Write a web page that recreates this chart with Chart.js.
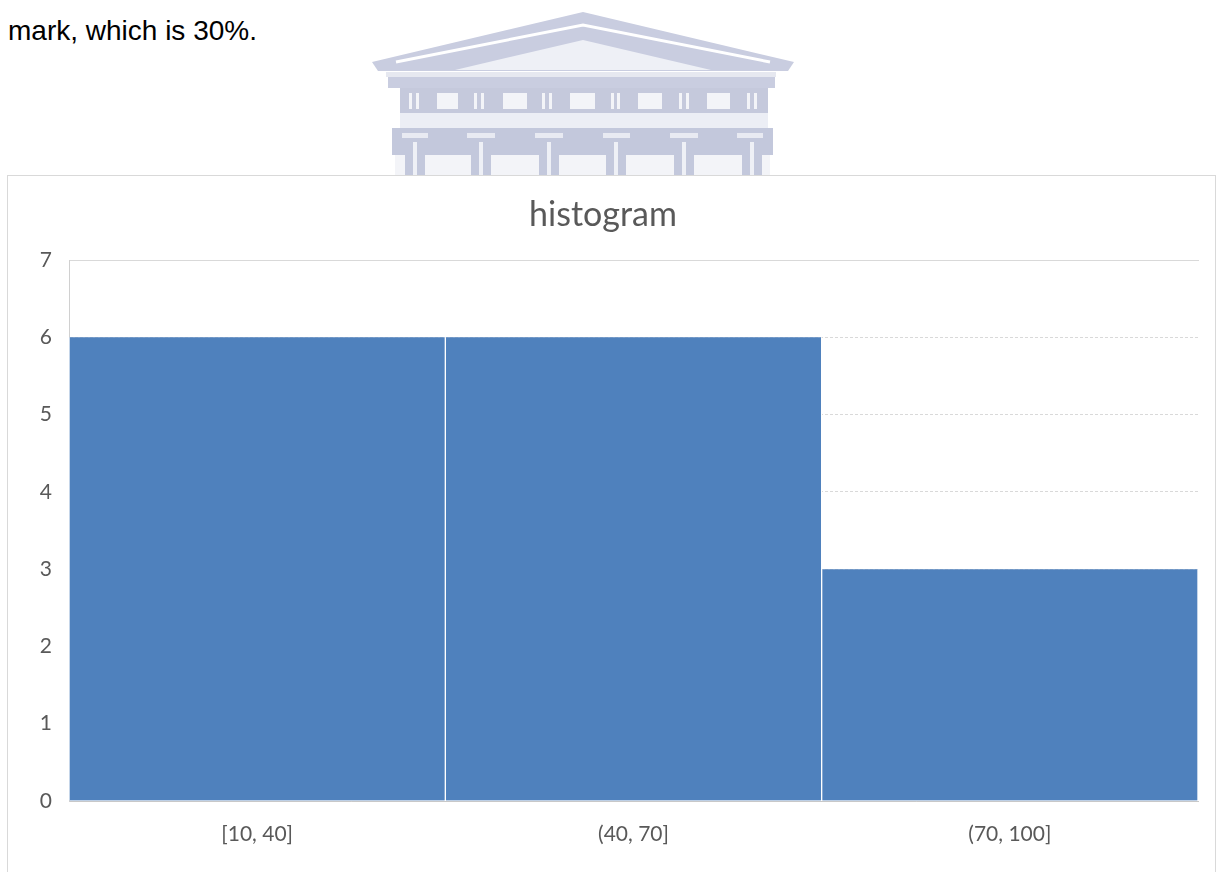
<!DOCTYPE html>
<html>
<head>
<meta charset="utf-8">
<script src="https://cdn.jsdelivr.net/npm/chart.js@4.4.0/dist/chart.umd.min.js"></script>
<style>
  html, body { margin: 0; padding: 0; background: #fff; width: 1216px; height: 872px; overflow: hidden; }
  #intro { position: absolute; left: 8px; top: 17px; margin: 0; font: 28px "Liberation Sans", Arial, sans-serif; line-height: 1; color: #000; white-space: nowrap; }
  #logo { position: absolute; left: 0; top: 0; }
  #box { position: absolute; left: 7px; top: 175px; width: 1207px; height: 720px; border: 1px solid #d9d9d9; background: #fff; }
  #box canvas { display: block; }
</style>
</head>
<body>
<p id="intro">mark, which is 30%.</p>

<!-- faded building watermark behind the chart -->
<svg id="logo" width="1216" height="176" viewBox="0 0 1216 176">
  <polygon points="583,12 372,62 378,71 788,71 794,62" fill="#c9cde0"/>
  <polyline points="396,62 583,25 770,62" fill="none" stroke="#ffffff" stroke-width="3"/>
  <polygon points="583,40 455,70 711,70" fill="#eef0f6"/>
  <rect x="386" y="72" width="390" height="5" fill="#e6e8f0"/>
  <rect x="388" y="77" width="387" height="11" fill="#c9cde0"/>
  <rect x="400" y="88" width="368" height="25" fill="#c5c9dc"/>
  <g fill="#f3f4f8">
    <rect x="437" y="93" width="21" height="16"/>
    <rect x="503" y="93" width="24" height="16"/>
    <rect x="570" y="93" width="25" height="16"/>
    <rect x="638" y="93" width="24" height="16"/>
    <rect x="707" y="93" width="23" height="16"/>
    <rect x="409" y="93" width="3" height="16"/>
    <rect x="416" y="93" width="3" height="16"/>
    <rect x="474" y="93" width="3" height="16"/>
    <rect x="481" y="93" width="3" height="16"/>
    <rect x="542" y="93" width="3" height="16"/>
    <rect x="549" y="93" width="3" height="16"/>
    <rect x="611" y="93" width="3" height="16"/>
    <rect x="617" y="93" width="3" height="16"/>
    <rect x="679" y="93" width="3" height="16"/>
    <rect x="686" y="93" width="3" height="16"/>
    <rect x="747" y="93" width="3" height="16"/>
    <rect x="754" y="93" width="3" height="16"/>
  </g>
  <rect x="400" y="113" width="368" height="15" fill="#eceef5"/>
  <rect x="392" y="128" width="381" height="27" fill="#c3c8dc"/>
  <g fill="#e8eaf2">
    <rect x="402" y="133" width="26" height="5"/>
    <rect x="467" y="133" width="28" height="5"/>
    <rect x="535" y="133" width="28" height="5"/>
    <rect x="603" y="133" width="27" height="5"/>
    <rect x="670" y="133" width="28" height="5"/>
    <rect x="737" y="133" width="26" height="5"/>
  </g>
  <rect x="395" y="155" width="375" height="21" fill="#f3f4f8"/>
  <g fill="#c3c8dc">
    <rect x="405" y="140" width="20" height="36"/>
    <rect x="471" y="140" width="20" height="36"/>
    <rect x="539" y="140" width="20" height="36"/>
    <rect x="606" y="140" width="20" height="36"/>
    <rect x="674" y="140" width="20" height="36"/>
    <rect x="742" y="140" width="20" height="36"/>
  </g>
  <g fill="#eef0f6">
    <rect x="413" y="142" width="4" height="34"/>
    <rect x="479" y="142" width="4" height="34"/>
    <rect x="547" y="142" width="4" height="34"/>
    <rect x="614" y="142" width="4" height="34"/>
    <rect x="682" y="142" width="4" height="34"/>
    <rect x="750" y="142" width="4" height="34"/>
  </g>
</svg>

<div id="box"><canvas id="chart" width="1207" height="696"></canvas></div>

<script>
// histogram bins and their counts
const categories = ['[10, 40]', '(40, 70]', '(70, 100]'];
const counts = [6, 6, 3];
const yTicks = [0, 1, 2, 3, 4, 5, 6, 7];

const textGray = '#595959';
const tickFont = { family: 'Lato', size: 21 };

const chartData = {
  labels: categories,
  datasets: [
    {
      label: 'Frequency',
      data: counts,
      backgroundColor: '#4f81bd',
      borderColor: '#ffffff',
      borderWidth: { left: 1, right: 1, top: 0, bottom: 0 },
      barPercentage: 1,
      categoryPercentage: 1,
    },
  ],
};

const chartOptions = {
  responsive: false,
  animation: false,
  events: [],
  layout: { padding: { left: 0, right: 17, top: 0, bottom: 25 } },
  plugins: {
    legend: { display: false },
    tooltip: { enabled: false },
    title: {
      display: true,
      text: 'histogram',
      color: textGray,
      font: { family: 'Lato', size: 34, weight: 'normal' },
      padding: { top: 19, bottom: 24.2 },
    },
  },
  scales: {
    x: {
      afterFit: (scale) => {
        scale.height = 46;
      },
      grid: { display: false, drawTicks: false },
      border: { display: true, color: '#c8c8c8', dash: [3, 2] },
      ticks: { color: textGray, font: tickFont, padding: 21 },
    },
    // only used to draw the solid line along the top of the plot
    xTop: {
      type: 'category',
      axis: 'x',
      position: 'top',
      afterFit: (scale) => {
        scale.height = 0;
      },
      grid: { display: false, drawTicks: false },
      ticks: { display: false },
      border: { display: true, color: '#d9d9d9', width: 1 },
    },
    y: {
      min: 0,
      max: 7,
      afterBuildTicks: (scale) => {
        scale.ticks = yTicks.map((v) => ({ value: v }));
      },
      afterFit: (scale) => {
        scale.width = 61;
      },
      grid: { color: '#d9d9d9', drawTicks: false },
      border: { display: true, color: '#d0d0d0', dash: [3, 2] },
      ticks: { color: textGray, font: tickFont, padding: 17 },
    },
  },
};

new Chart(document.getElementById('chart').getContext('2d'), {
  type: 'bar',
  data: chartData,
  options: chartOptions,
});
</script>
</body>
</html>
